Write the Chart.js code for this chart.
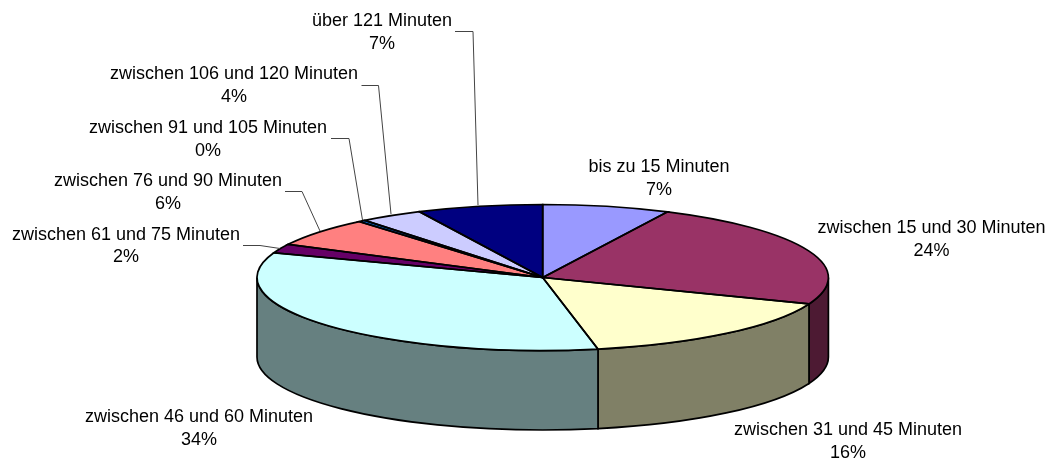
<!DOCTYPE html>
<html>
<head>
<meta charset="utf-8">
<title>Minuten</title>
<script src="https://cdn.jsdelivr.net/npm/chart.js@4"></script>
<style>
    body { margin: 0; background: #fff; }
    canvas { display: block; }
</style>
</head>
<body>
<canvas id="myChart" width="1057" height="462"></canvas>
<script>
// Data
const categories = [
    "bis zu 15 Minuten",
    "zwischen 15 und 30 Minuten",
    "zwischen 31 und 45 Minuten",
    "zwischen 46 und 60 Minuten",
    "zwischen 61 und 75 Minuten",
    "zwischen 76 und 90 Minuten",
    "zwischen 91 und 105 Minuten",
    "zwischen 106 und 120 Minuten",
    "über 121 Minuten"
];
const values = [7.2, 23.7, 16, 33.6, 2, 6.4, 0.4, 3.6, 7.1];
const percentLabels = ["7%", "24%", "16%", "34%", "2%", "6%", "0%", "4%", "7%"];

// Styling
const sliceColors = ["#9999FF", "#993366", "#FFFFCC", "#CCFFFF", "#660066", "#FF8080", "#0066CC", "#CCCCFF", "#000080"];
const wallColors = ["#4D4D80", "#4D1A33", "#808066", "#668080", "#330033", "#804040", "#003366", "#666680", "#000040"];

// Label centre x and the y of both text lines, same order as categories
const labelX = [659, 931.5, 848, 199, 126, 168, 208, 234, 382];
const labelY = [[167, 190], [228, 251], [430, 453], [417, 440], [235, 257], [181, 204], [128, 151], [74, 97], [21, 44]];

// Leader lines, only some labels have one
const leaders = [
    [[243, 245.5], [260, 245.5], [280, 248.5]],
    [[285, 191.5], [302, 191.5], [320, 231]],
    [[331, 138.5], [349, 138.5], [362.5, 220]],
    [[361.5, 85.5], [378.5, 85.5], [391, 214]],
    [[455, 31.5], [473, 31.5], [478, 205]]
];

const tilt = 73 / 285.7;   // flattening of the pie
const depth = 79.5;        // height of the side wall

function squash(ctx, arc) {
    ctx.translate(arc.x, arc.y);
    ctx.scale(1, tilt);
    ctx.translate(-arc.x, -arc.y);
}

const pie3d = {
    id: "pie3d",
    beforeDatasetDraw(chart, args) {
        const ctx = chart.ctx;
        // Side wall, only the front half of the ellipse shows
        args.meta.data.forEach((arc, i) => {
            const from = Math.max(arc.startAngle, 0);
            const to = Math.min(arc.endAngle, Math.PI);
            if (to <= from) return;
            const ry = arc.outerRadius * tilt;
            ctx.beginPath();
            ctx.ellipse(arc.x, arc.y, arc.outerRadius, ry, 0, from, to);
            ctx.ellipse(arc.x, arc.y + depth, arc.outerRadius, ry, 0, to, from, true);
            ctx.closePath();
            ctx.fillStyle = wallColors[i];
            ctx.fill();
            ctx.lineWidth = 1.7;
            ctx.strokeStyle = "#000";
            ctx.stroke();
        });
        // Top face: the library draws the arcs, squashed
        ctx.save();
        squash(ctx, args.meta.data[0]);
    },
    afterDatasetDraw(chart, args) {
        const ctx = chart.ctx;
        ctx.restore();
        // Outline after restore so that the line width stays even
        args.meta.data.forEach(arc => {
            ctx.save();
            squash(ctx, arc);
            ctx.beginPath();
            ctx.moveTo(arc.x, arc.y);
            ctx.arc(arc.x, arc.y, arc.outerRadius, arc.startAngle, arc.endAngle);
            ctx.closePath();
            ctx.restore();
            ctx.lineWidth = 1.7;
            ctx.strokeStyle = "#000";
            ctx.stroke();
        });
    },
    afterDraw(chart) {
        const ctx = chart.ctx;
        ctx.save();
        ctx.strokeStyle = "#444";
        ctx.lineWidth = 1;
        leaders.forEach(points => {
            ctx.beginPath();
            points.forEach((p, i) => i ? ctx.lineTo(p[0], p[1]) : ctx.moveTo(p[0], p[1]));
            ctx.stroke();
        });
        ctx.fillStyle = "#000";
        ctx.font = '18px "Liberation Sans", Arial, sans-serif';
        ctx.textAlign = "center";
        ctx.textBaseline = "middle";
        categories.forEach((name, i) => {
            ctx.fillText(name, labelX[i], labelY[i][0]);
            ctx.fillText(percentLabels[i], labelX[i], labelY[i][1]);
        });
        ctx.restore();
    }
};

new Chart(document.getElementById("myChart").getContext("2d"), {
    type: "pie",
    data: {
        labels: categories,
        datasets: [{
            data: values,
            backgroundColor: sliceColors,
            borderWidth: 0,
            radius: 285.7,
            clip: false
        }]
    },
    options: {
        responsive: false,
        animation: false,
        layout: { padding: { left: 28.4, top: 93 } },
        plugins: {
            legend: { display: false },
            tooltip: { enabled: false }
        }
    },
    plugins: [pie3d]
});
</script>
</body>
</html>
